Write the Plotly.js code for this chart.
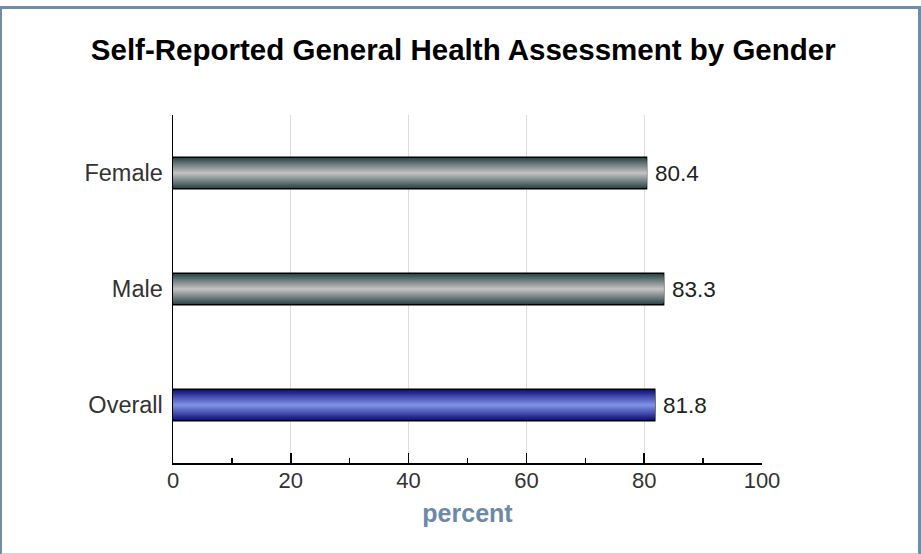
<!DOCTYPE html>
<html>
<head>
<meta charset="utf-8">
<script src="https://cdn.plot.ly/plotly-3.0.1.min.js"></script>
<style>
  html, body { margin: 0; padding: 0; background: #ffffff; }
  #wrap { position: relative; width: 921px; height: 554px; overflow: hidden; }
  #chart { position: absolute; left: 0; top: 0; width: 921px; height: 554px; }
  #frame {
    position: absolute; left: 0; top: 6px; width: 916px; height: 544px;
    border-left: 2px solid #6f8cab; border-top: 3px solid #6f8cab;
    border-right: 3px solid #6f8cab; border-bottom: 2px solid #c9d2dd;
    pointer-events: none;
  }
</style>
</head>
<body>
<div id="wrap">
  <div id="chart"></div>
  <div id="frame"></div>
</div>
<script>
// ---- data ----
const categories = ['Female', 'Male', 'Overall'];
const values = [80.4, 83.3, 81.8];
const valueLabels = ['80.4', '83.3', '81.8'];
const xTickValues = [0, 20, 40, 60, 80, 100];
const xTickLabels = ['0', '20', '40', '60', '80', '100'];

// ---- styles ----
const edgeColors = [[44, 70, 74], [44, 70, 74], [16, 16, 122]];
const centerColors = [[192, 192, 192], [192, 192, 192], [126, 144, 228]];
const BAR_W = 0.27;
const LAYERS = 14;

function mix(a, b, t) {
  return 'rgb(' + a.map((v, i) => Math.round(v + (b[i] - v) * t)).join(',') + ')';
}

const traces = [];
for (let k = 0; k < LAYERS; k++) {
  const t = k / (LAYERS - 1);
  traces.push({
    type: 'bar',
    orientation: 'h',
    x: values,
    y: categories,
    width: BAR_W * (1 - k / LAYERS),
    marker: {
      color: categories.map((c, i) => mix(edgeColors[i], centerColors[i], t)),
      line: { color: '#000000', width: k === 0 ? 1.5 : 0 }
    },
    hoverinfo: 'skip',
    showlegend: false
  });
}

const annotations = values.map((v, i) => ({
  x: v, y: categories[i], xref: 'x', yref: 'y',
  text: valueLabels[i], showarrow: false,
  xanchor: 'left', yanchor: 'middle', xshift: 6,
  font: { family: 'Liberation Sans, Arial, sans-serif', size: 22.5, color: '#222222' }
}));

const layout = {
  width: 921, height: 554,
  margin: { l: 173, r: 159, t: 115, b: 91 },
  paper_bgcolor: '#ffffff', plot_bgcolor: '#ffffff',
  barmode: 'overlay',
  title: {
    text: 'Self-Reported General Health Assessment by Gender',
    font: { family: 'Liberation Sans, Arial, sans-serif', size: 29.5, color: '#000000', weight: 'bold' },
    xref: 'container', x: 0.503, yref: 'container', y: 1 - 50 / 554, yanchor: 'middle'
  },
  xaxis: {
    range: [0, 100],
    tickmode: 'array', tickvals: xTickValues, ticktext: xTickLabels,
    showgrid: true, gridcolor: '#dddddd', gridwidth: 1,
    zeroline: false,
    showline: true, linecolor: '#000000', linewidth: 1.5,
    ticks: 'inside', ticklen: 10, tickwidth: 1.5, tickcolor: '#000000',
    minor: { dtick: 10, tick0: 0, ticks: 'inside', ticklen: 5, tickwidth: 1.5, tickcolor: '#000000', showgrid: false },
    tickfont: { family: 'Liberation Sans, Arial, sans-serif', size: 22, color: '#333333' },
    ticklabelstandoff: -3,
    title: {
      text: 'percent',
      font: { family: 'Liberation Sans Narrow, Arial Narrow, Liberation Sans, sans-serif', size: 25, color: '#6b89a8', weight: 'bold' },
      standoff: 12
    },
    fixedrange: true
  },
  yaxis: {
    type: 'category',
    categoryorder: 'array', categoryarray: categories,
    autorange: 'reversed',
    showgrid: false, zeroline: false,
    showline: true, linecolor: '#000000', linewidth: 1.5,
    ticks: '',
    ticklabelstandoff: 4,
    tickfont: { family: 'Liberation Sans, Arial, sans-serif', size: 23.5, color: '#333333' },
    fixedrange: true
  },
  annotations: annotations
};

Plotly.newPlot('chart', traces, layout, { displayModeBar: false, staticPlot: true });
</script>
</body>
</html>
